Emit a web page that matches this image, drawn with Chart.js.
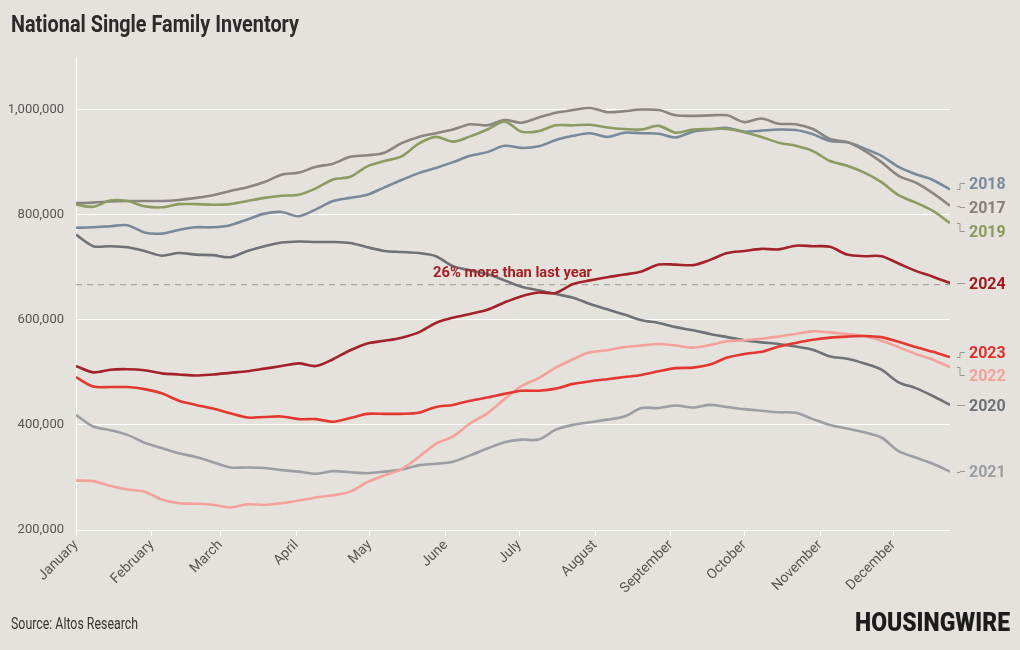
<!DOCTYPE html>
<html>
<head>
<meta charset="utf-8">
<script src="https://cdn.jsdelivr.net/npm/chart.js@4/dist/chart.umd.min.js"></script>
<style>
  html, body { margin: 0; padding: 0; background: #e5e2dd; }
  #wrap { width: 1020px; height: 650px; }
</style>
</head>
<body>
<div id="wrap"><canvas id="inventoryChart" width="1020" height="650"></canvas></div>
<script>
// weekly inventory, thousands of single family homes
const weeks = [0,1,2,3,4,5,6,7,8,9,10,11,12,13,14,15,16,17,18,19,20,21,22,23,24,25,
  26,27,28,29,30,31,32,33,34,35,36,37,38,39,40,41,42,43,44,45,46,47,48,49,50,51];

const monthNames = ['January','February','March','April','May','June','July',
  'August','September','October','November','December'];
const monthStartDays = [0,31,59,90,120,151,181,212,243,273,304,334];
const yTickValues = [200,400,600,800,1000];
const lastYearLine = 667;

const inv2017 = [822,823,825,826,826,826,828,832,837,845,852,862,876,880,891,897,910,913,918,936,
  948,955,962,972,970,980,975,985,994,999,1003,995,997,1000,999,989,988,989,989,976,
  983,973,972,963,944,938,922,900,874,861,841,817];
const inv2018 = [775,776,778,780,766,764,771,776,776,780,791,802,805,797,810,826,832,838,852,866,
  879,889,900,912,919,931,927,930,942,950,955,948,956,955,954,947,958,962,965,958,
  960,962,961,953,940,938,926,912,891,877,866,848];
const inv2019 = [819,815,827,826,816,814,820,820,819,820,826,832,836,838,850,867,872,892,902,911,
  935,948,939,949,962,977,958,959,970,970,971,966,963,962,969,956,962,963,963,957,
  948,937,931,921,902,893,880,862,837,823,807,784];
const inv2020 = [762,740,740,738,731,722,727,724,723,719,731,740,747,749,748,748,746,738,731,729,
  727,721,702,694,687,675,663,656,649,642,630,620,610,599,594,586,580,573,567,561,
  557,554,549,543,530,526,517,505,481,470,455,438];
const inv2021 = [419,397,390,381,366,356,346,339,329,319,319,318,314,311,307,312,310,308,311,315,
  323,326,330,342,355,367,372,372,391,400,405,410,416,432,432,437,433,438,434,430,
  427,424,423,411,400,393,386,376,350,338,326,311];
const inv2022 = [294,293,284,277,273,258,251,250,248,243,249,248,251,256,262,266,273,291,304,316,
  339,364,378,403,422,449,474,489,509,525,538,542,548,551,554,551,547,552,559,561,
  564,568,573,578,576,573,569,560,548,535,524,510];
const inv2023 = [491,473,472,472,468,460,446,438,431,422,414,415,416,411,411,406,413,421,421,421,
  423,434,438,446,452,459,465,465,469,478,483,487,491,495,502,508,509,515,528,535,
  539,549,556,562,566,568,569,567,558,548,539,529];
const inv2024 = [512,500,505,506,504,498,496,494,496,499,502,507,512,517,512,525,542,555,560,566,
  576,594,604,611,619,633,645,652,651,668,675,681,686,692,705,705,704,714,727,731,
  735,734,741,740,739,724,721,721,707,693,682,670];

// first dataset is drawn on top
const series = [
  { year: '2024', data: inv2024, color: '#a3222a', text: '#a3191f', nudge: 0 },
  { year: '2023', data: inv2023, color: '#e3382f', text: '#e0312b', nudge: -5 },
  { year: '2022', data: inv2022, color: '#f5a19b', text: '#f4a09a', nudge: 8 },
  { year: '2020', data: inv2020, color: '#6e7276', text: '#6e7175', nudge: 0 },
  { year: '2021', data: inv2021, color: '#9b9ea2', text: '#9a9da1', nudge: -1 },
  { year: '2019', data: inv2019, color: '#8c9b61', text: '#8a9a5b', nudge: 8 },
  { year: '2017', data: inv2017, color: '#8b8581', text: '#857f7a', nudge: 1 },
  { year: '2018', data: inv2018, color: '#7a899a', text: '#7b8a9a', nudge: -6 }
];

// condensed-looking text by squeezing to a target width
function squeezeText(ctx, text, x, y, font, color, width) {
  ctx.save();
  ctx.font = font;
  const w = ctx.measureText(text).width;
  const s = width ? width / w : 1;
  ctx.translate(x, y);
  ctx.scale(s, 1);
  ctx.fillStyle = color;
  ctx.textAlign = 'left';
  ctx.textBaseline = 'alphabetic';
  ctx.fillText(text, 0, 0);
  ctx.restore();
}

const decor = {
  id: 'decor',
  beforeDraw(chart) {
    const ctx = chart.ctx;
    ctx.save();
    ctx.fillStyle = '#e5e2dd';
    ctx.fillRect(0, 0, chart.width, chart.height);
    ctx.restore();
  },
  beforeDatasetsDraw(chart) {
    const ctx = chart.ctx, area = chart.chartArea;
    const y = chart.scales.y.getPixelForValue(lastYearLine);
    ctx.save();
    ctx.strokeStyle = '#a9a7a4';
    ctx.lineWidth = 1.2;
    ctx.setLineDash([6, 5]);
    ctx.beginPath();
    ctx.moveTo(area.left, y);
    ctx.lineTo(area.right, y);
    ctx.stroke();
    ctx.restore();
  },
  afterDatasetsDraw(chart) {
    const ctx = chart.ctx, area = chart.chartArea;
    const ys = chart.scales.y;

    // annotation
    squeezeText(ctx, '26% more than last year', 433, 277, 'bold 15px Roboto', '#a31f24', 159);

    // end labels with small connectors
    series.forEach(s => {
      const last = s.data[s.data.length - 1];
      const yEnd = ys.getPixelForValue(last);
      const yLab = Math.round(yEnd + s.nudge) + 0.5;
      const x0 = area.right + 7;
      ctx.save();
      ctx.strokeStyle = '#9a9896';
      ctx.lineWidth = 1;
      ctx.beginPath();
      ctx.moveTo(x0, Math.round(yEnd) + 0.5);
      ctx.lineTo(x0 + 3, Math.round(yEnd) + 0.5);
      ctx.lineTo(x0 + 3, yLab);
      ctx.lineTo(x0 + 8, yLab);
      ctx.stroke();
      ctx.font = 'bold 16px Roboto';
      ctx.fillStyle = s.text;
      ctx.textAlign = 'left';
      ctx.textBaseline = 'middle';
      ctx.fillText(s.year, area.right + 19, yLab + 1);
      ctx.restore();
    });
  },
  afterDraw(chart) {
    const ctx = chart.ctx;
    squeezeText(ctx, 'National Single Family Inventory', 11, 32, 'bold 23px Roboto', '#2b2b2b', 288);
    squeezeText(ctx, 'Source: Altos Research', 11, 629, '16px Roboto', '#333333', 127);
    squeezeText(ctx, 'HOUSINGWIRE', 855, 631, '900 26px Roboto', '#1c1c1c', 155);
  }
};

const ctx = document.getElementById('inventoryChart').getContext('2d');
new Chart(ctx, {
  type: 'line',
  data: {
    labels: weeks,
    datasets: series.map(s => ({
      label: s.year,
      data: s.data,
      borderColor: s.color,
      backgroundColor: s.color,
      borderWidth: 2.6,
      tension: 0.3,
      pointRadius: 0,
      fill: false
    }))
  },
  options: {
    responsive: false,
    animation: false,
    layout: { padding: { top: 57, right: 70, left: 0, bottom: 0 } },
    plugins: {
      legend: { display: false },
      tooltip: { enabled: false }
    },
    scales: {
      x: {
        type: 'linear',
        min: 0,
        max: 51,
        afterBuildTicks: scale => {
          scale.ticks = monthStartDays.map(d => ({ value: d / 7 }));
        },
        afterFit: scale => { scale.height = 120; },
        grid: { display: true, drawOnChartArea: false, drawTicks: true, tickLength: 6, color: '#ffffff' },
        border: { display: false },
        ticks: {
          autoSkip: false,
          minRotation: 45,
          maxRotation: 45,
          padding: 1,
          color: '#555555',
          font: { family: 'Roboto', size: 14 },
          callback: (value, index) => monthNames[index]
        }
      },
      y: {
        type: 'linear',
        min: 200,
        max: 1100,
        afterBuildTicks: scale => {
          scale.ticks = yTickValues.map(v => ({ value: v }));
        },
        afterFit: scale => { scale.width = 76; },
        grid: { color: '#ffffff', lineWidth: 1, drawTicks: false },
        border: { display: true, color: '#ffffff', width: 1 },
        ticks: {
          padding: 12,
          color: '#555555',
          font: { family: 'Roboto', size: 13 },
          callback: v => (v * 1000).toLocaleString('en-US')
        }
      }
    }
  },
  plugins: [decor]
});
</script>
</body>
</html>
